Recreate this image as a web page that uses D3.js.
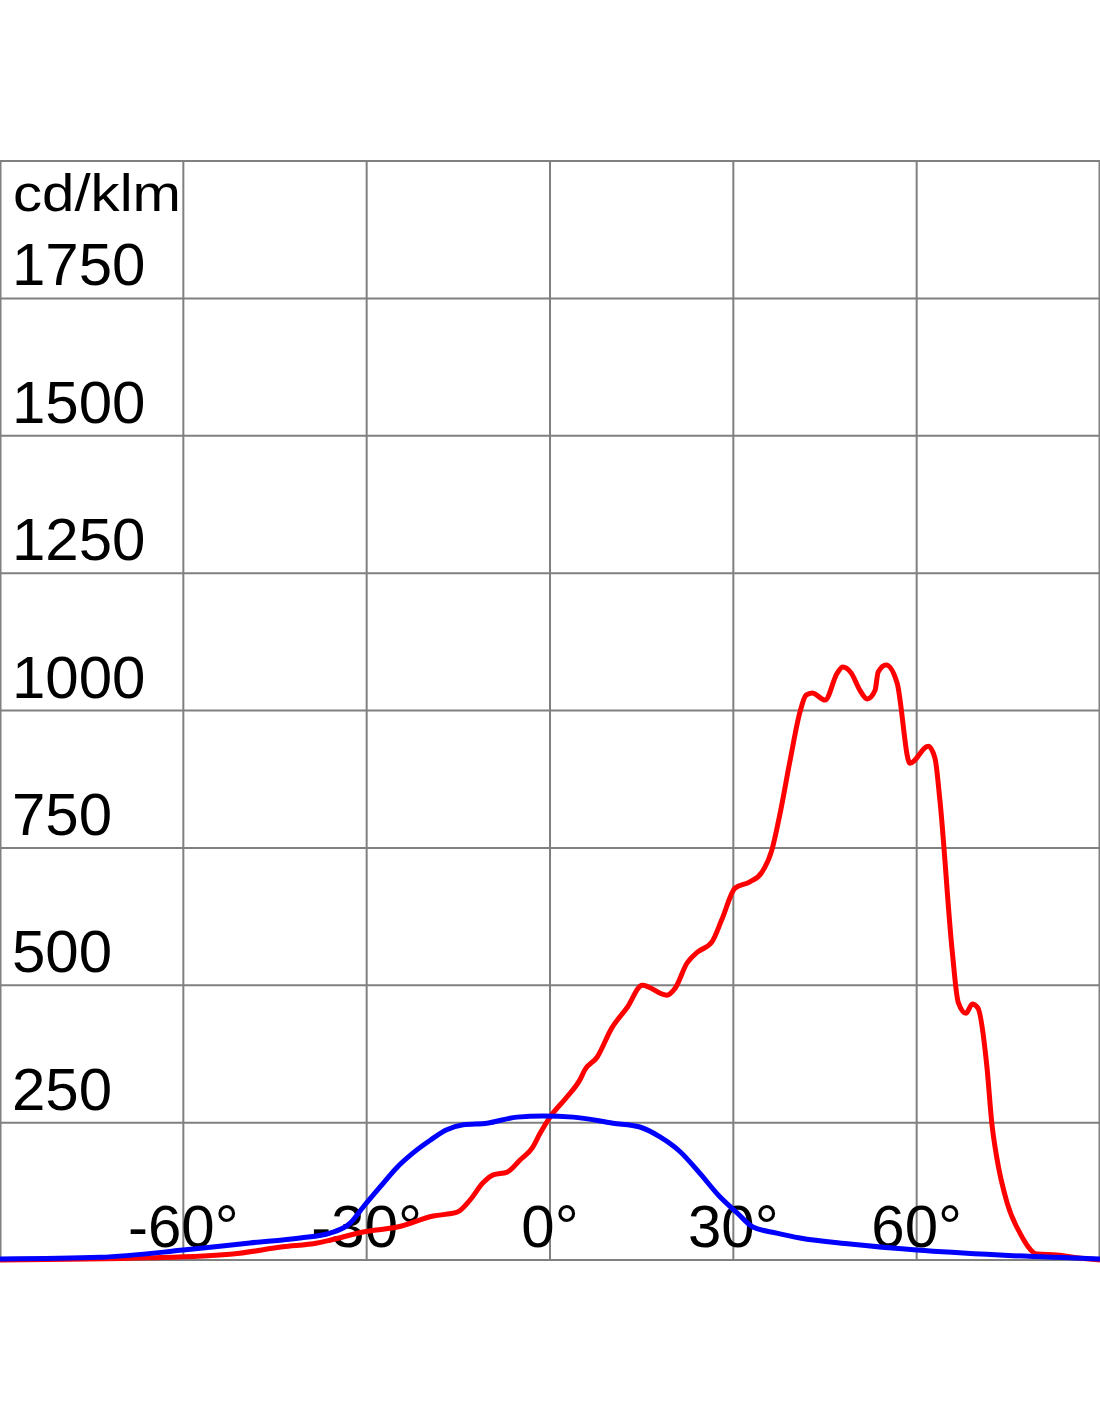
<!DOCTYPE html>
<html><head><meta charset="utf-8">
<script src="https://cdn.jsdelivr.net/npm/d3@7"></script>
<style>html,body{margin:0;padding:0;background:#fff;} svg{display:block;}</style>
</head><body>
<svg id="chart" width="1100" height="1422"></svg>
<script>
const unitLabel = "cd/klm";
const yTicks = [250, 500, 750, 1000, 1250, 1500, 1750];
const xTicks = [-60, -30, 0, 30, 60];
const xTickLabels = ["-60°", "-30°", "0°", "30°", "60°"];

const redAngles = [-90,-65.5,-51.9,-43.7,-38.1,-36.0,-30.6,-25.0,-19.1,-15.2,-13.1,-11.0,-9.3,-7.0,-4.9,-2.9,-1.6,0,2.8,4.9,5.7,7.7,10.1,12.6,15.1,19.1,20.5,22.4,24.1,26.5,28.1,30.3,32.7,34.7,36.3,37.6,39.3,40.9,41.9,42.9,45.0,47.0,47.9,49.3,50.7,51.9,53.2,53.7,55.0,56.8,58.9,61.9,63.0,63.8,65.8,66.8,68.1,69.1,70.0,71.5,72.3,73.1,74.8,76.9,79.7,83.0,86.2,90];
const redValues = [0,4,11,24,31,36,51,60,80,87,109,140,155,160,182,204,231,260,297,328,346,369,422,459,500,482,495,540,560,579,619,677,688,706,746,810,910,997,1028,1032,1019,1068,1079,1068,1037,1021,1037,1070,1083,1050,904,935,913,837,564,469,449,466,459,351,249,187,104,49,11,9,4,0];

const blueAngles = [-90,-73.6,-60,-49.1,-40.9,-36.0,-32.7,-30.6,-27.8,-25.0,-22.4,-19.6,-16.9,-14.2,-10.3,-5.4,-1.1,3.8,10.3,14.7,18.0,21.3,24.5,27.8,30.6,33.2,37.1,40.9,49.1,60,73.6,90];
const blueValues = [2,5,18,31,40,49,67,96,133,169,195,218,237,246,249,260,262,260,249,242,224,197,158,115,86,60,49,40,29,18,9,2];

const svg = d3.select("#chart");
const x = d3.scaleLinear().domain([-90, 90]).range([0, 1100]);
const y = d3.scaleLinear().domain([0, 2000]).range([1260, 161]);
const gray = "#808080";
const font = "'Liberation Sans', Arial, sans-serif";

// grid
const g = svg.append("g");
g.selectAll("line.v").data(xTicks).join("line")
  .attr("x1", d => x(d)).attr("x2", d => x(d))
  .attr("y1", y(2000)).attr("y2", y(0))
  .attr("stroke", gray).attr("stroke-width", 2);
g.selectAll("line.h").data(yTicks).join("line")
  .attr("x1", x(-90)).attr("x2", x(90))
  .attr("y1", d => y(d)).attr("y2", d => y(d))
  .attr("stroke", gray).attr("stroke-width", 2);
g.append("rect")
  .attr("x", x(-90) + 0.5).attr("y", y(2000))
  .attr("width", x(90) - x(-90) - 1).attr("height", y(0) - y(2000))
  .attr("fill", "none").attr("stroke", gray).attr("stroke-width", 2);

// y labels
svg.append("g").selectAll("text").data(yTicks).join("text")
  .attr("x", 12).attr("y", d => y(d) - 13)
  .attr("font-family", font).attr("font-size", 60).attr("fill", "#000")
  .text(d => d);
svg.append("text")
  .attr("x", 13).attr("y", 211)
  .attr("font-family", font).attr("font-size", 52).attr("fill", "#000")
  .attr("textLength", 168).attr("lengthAdjust", "spacingAndGlyphs")
  .text(unitLabel);

// x labels
svg.append("g").selectAll("text").data(xTicks).join("text")
  .attr("x", d => x(d)).attr("y", y(0) - 13)
  .attr("text-anchor", "middle")
  .attr("font-family", font).attr("font-size", 60).attr("fill", "#000")
  .text((d, i) => xTickLabels[i]);

// curves
const line = d3.line().x(d => x(d[0])).y(d => y(d[1])).curve(d3.curveMonotoneX);
svg.append("path")
  .datum(redAngles.map((a, i) => [a, redValues[i]]))
  .attr("d", line).attr("fill", "none").attr("stroke", "#ff0000")
  .attr("stroke-width", 5).attr("stroke-linejoin", "round");
svg.append("path")
  .datum(blueAngles.map((a, i) => [a, blueValues[i]]))
  .attr("d", line)
  .attr("fill", "none").attr("stroke", "#0000ff")
  .attr("stroke-width", 5).attr("stroke-linejoin", "round");
</script>
</body></html>
